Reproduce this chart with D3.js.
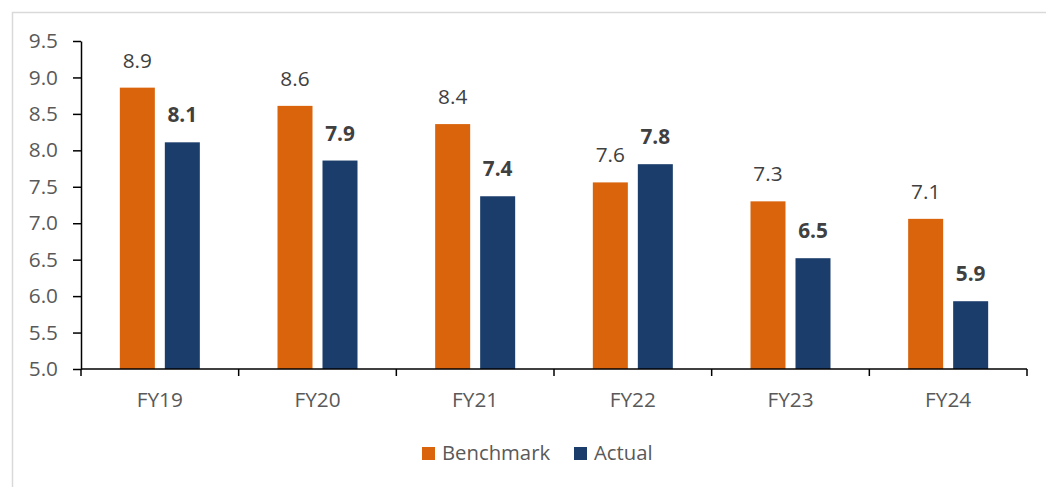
<!DOCTYPE html>
<html>
<head>
<meta charset="utf-8">
<script src="https://cdn.jsdelivr.net/npm/d3@7"></script>
<style>
  html, body { margin: 0; padding: 0; background: #fff; }
  svg { display: block; font-family: "Open Sans", "Noto Sans", sans-serif; }
</style>
</head>
<body>
<svg id="chart" width="1046" height="487"></svg>
<script>
// Fiscal years on the category axis
const categories = ["FY19", "FY20", "FY21", "FY22", "FY23", "FY24"];
// Series names as they appear in the legend
const seriesNames = ["Benchmark", "Actual"];
// Values per fiscal year
const benchmark = [8.86, 8.61, 8.36, 7.56, 7.30, 7.06];
const actual = [8.11, 7.86, 7.37, 7.81, 6.52, 5.93];
// Value-axis ticks
const yTicks = [5.0, 5.5, 6.0, 6.5, 7.0, 7.5, 8.0, 8.5, 9.0, 9.5];

const colors = { Benchmark: "#D9640C", Actual: "#1B3D6B" };
const series = { Benchmark: benchmark, Actual: actual };

const svg = d3.select("#chart");
const margin = { left: 81, right: 19, top: 41, bottom: 118 };
const W = 1046, H = 487;
const x0 = margin.left, x1e = W - margin.right;
const yTop = margin.top, yBot = H - margin.bottom;
const fontSize = 20.8;

// chart-area frame (extends past the right and bottom edges)
svg.append("rect")
  .attr("x", 12.5).attr("y", 12.5)
  .attr("width", W).attr("height", H)
  .attr("fill", "none").attr("stroke", "#d9d9d9").attr("stroke-width", 1.5);

const x = d3.scaleBand().domain(categories).range([x0, x1e]).padding(0);
const xs = d3.scaleBand().domain(seriesNames)
  .range([0, x.bandwidth()]).paddingInner(0.222).paddingOuter(0.863);
const y = d3.scaleLinear().domain([5, 9.5]).range([yBot, yTop]);

const fmt = d3.format(".1f");

// bars
const groups = svg.append("g").selectAll("g")
  .data(categories).join("g")
  .attr("transform", d => `translate(${x(d)},0)`);

groups.selectAll("rect")
  .data((c, i) => seriesNames.map(s => ({ s, v: series[s][i] })))
  .join("rect")
  .attr("x", d => xs(d.s))
  .attr("width", xs.bandwidth())
  .attr("y", d => y(d.v))
  .attr("height", d => y(5) - y(d.v))
  .attr("fill", d => colors[d.s]);

// value labels
groups.selectAll("text")
  .data((c, i) => seriesNames.map(s => ({ s, v: series[s][i] })))
  .join("text")
  .attr("x", d => xs(d.s) + xs.bandwidth() / 2)
  .attr("y", d => y(d.v) - 20)
  .attr("text-anchor", "middle")
  .attr("font-size", fontSize)
  .attr("font-weight", d => d.s === "Actual" ? 700 : 400)
  .attr("fill", "#404040")
  .text(d => fmt(d.v));

// y axis
const yAxis = svg.append("g")
  .attr("transform", `translate(${x0},0)`)
  .call(d3.axisLeft(y).tickValues(yTicks).tickFormat(fmt)
    .tickSize(8).tickSizeOuter(0).tickPadding(15));
yAxis.select(".domain").attr("stroke", "#000").attr("stroke-width", 1.5);
yAxis.selectAll(".tick line").attr("stroke", "#000").attr("stroke-width", 1.5);
yAxis.selectAll(".tick text")
  .attr("font-size", fontSize).attr("fill", "#595959")
  .attr("font-family", "Open Sans, Noto Sans, sans-serif");

// x axis labels
const xAxis = svg.append("g")
  .attr("transform", `translate(0,${yBot})`)
  .call(d3.axisBottom(x).tickSize(0).tickPadding(23.5));
xAxis.select(".domain").remove();
xAxis.selectAll(".tick text")
  .attr("font-size", fontSize).attr("fill", "#595959")
  .attr("font-family", "Open Sans, Noto Sans, sans-serif");

// x axis line with ticks at category boundaries
const bounds = categories.map(c => x(c)).concat([x1e]);
svg.append("line")
  .attr("x1", x0).attr("x2", x1e)
  .attr("y1", yBot).attr("y2", yBot)
  .attr("stroke", "#000").attr("stroke-width", 1.5);
svg.append("g").selectAll("line")
  .data(bounds).join("line")
  .attr("x1", d => d).attr("x2", d => d)
  .attr("y1", yBot).attr("y2", yBot + 7)
  .attr("stroke", "#000").attr("stroke-width", 1.5);

// legend
const legendItems = [
  { s: "Benchmark", x: 422 },
  { s: "Actual", x: 574 }
];
const lg = svg.append("g").selectAll("g")
  .data(legendItems).join("g")
  .attr("transform", d => `translate(${d.x},447)`);
lg.append("rect")
  .attr("width", 13).attr("height", 13)
  .attr("fill", d => colors[d.s]);
lg.append("text")
  .attr("x", 20).attr("y", 13)
  .attr("font-size", 20.3).attr("fill", "#595959")
  .text(d => d.s);
</script>
</body>
</html>
